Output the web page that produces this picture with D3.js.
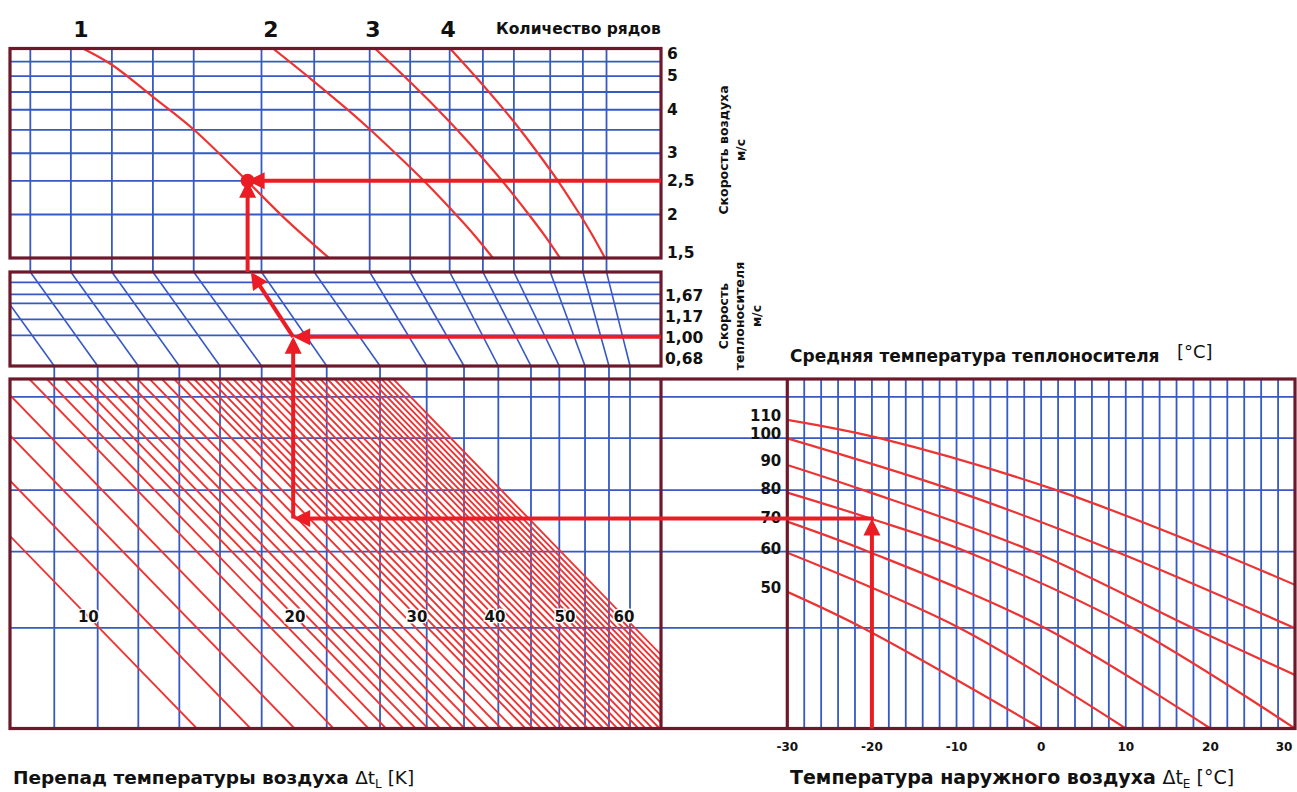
<!DOCTYPE html>
<html><head><meta charset="utf-8">
<script src="https://cdn.jsdelivr.net/npm/d3@7"></script>
<style>
body{margin:0;background:#fff;}
svg{display:block;font-family:"DejaVu Sans",Verdana,sans-serif;}
</style></head><body>
<svg id="c" width="1297" height="792"></svg>
<script>
// ================= DATA =================
// Top panel: air speed (m/s), log axis; curves per number of coil rows
const rowLabels = ["1", "2", "3", "4"];
const airSpeedTicks = [6, 5, 4, 3, 2.5, 2, 1.5];
const airSpeedTickLabels = ["6", "5", "4", "3", "2,5", "2", "1,5"];
const airSpeedGrid = [5.5, 5, 4.5, 4, 3.5, 3, 2.5, 2];
// unlabeled common horizontal scale of the left block (relative units 0..100)
const topGridX = [3.12, 9.35, 15.65, 21.95, 28.22, 38.63, 46.73, 55.25, 61.47, 67.54, 72.64, 77.40, 82.98, 88.00, 91.63];
const bottomGridX = [6.80, 13.47, 19.71, 26.01, 32.26, 38.66, 48.65, 56.84, 64.01, 69.74, 75.01, 80.03, 84.38, 88.33, 92.01, 95.24];
const rowCurve1 = [[11.2, 6.0], [15.7, 5.38], [22.0, 4.35], [28.3, 3.50], [36.3, 2.51], [42.2, 1.95], [49.0, 1.5]];
const rowCurve2 = [[40.40, 6.0], [46.42, 4.87], [51.55, 4.05], [55.39, 3.50], [59.20, 3.00], [63.75, 2.48], [68.28, 2.02], [71.27, 1.75], [74.19, 1.5]];
const rowCurve3 = [[56.07, 6.0], [61.15, 4.87], [65.48, 4.05], [68.71, 3.50], [71.94, 3.00], [75.74, 2.48], [79.52, 2.02], [82.03, 1.75], [84.49, 1.5]];
const rowCurve4 = [[67.60, 6.0], [71.97, 4.87], [75.65, 4.05], [78.40, 3.50], [81.11, 3.00], [84.29, 2.48], [87.39, 2.02], [89.42, 1.75], [91.40, 1.5]];

// Middle panel: coolant speed (relative vertical units 0..100)
const coolantSpeedLabels = ["1,67", "1,17", "1,00", "0,68"];
const coolantSpeedLabelPos = [74.5, 52.1, 29.8, 7.4];
const coolantSpeedGrid = [89.0, 76.3, 66.7, 49.7, 32.6];
const midDiagTopX = [-3.6, 3.12, 9.35, 15.65, 21.95, 28.22, 38.63, 46.73, 55.25, 61.47, 67.54, 72.64, 77.40, 82.98, 88.00, 91.63];

// Bottom band: shared relative vertical units 0..100
const bottomGridY = [94.9, 83.1, 68.2, 50.6, 28.8];
// Air temperature difference lines Δt_L (K)
const dtLines = [10, 12, 14, 16, 18, 19, 20, 21, 22, 23, 24, 25, 26, 27, 28, 29, 30, 31, 32, 33, 34, 35, 36, 37, 38, 39, 40,
  41, 42, 43, 44, 45, 46, 47, 48, 49, 50, 51, 52, 53, 54, 55, 56, 57, 58, 59, 60];
const dtLabels = [10, 20, 30, 40, 50, 60];

// Right panel: outdoor temperature (°C) vs mean coolant temperature curves
const outdoorTicks = [-30, -20, -10, 0, 10, 20, 30];
const outdoorGrid = [-28, -26, -24, -22, -20, -18, -16, -14, -12, -10, -8, -6, -4, -2, 0, 2, 4, 6, 8, 10, 12, 14, 16, 18, 20, 22, 24, 26, 28];
const coolantTemps = [110, 100, 90, 80, 70, 60, 50];
const coolant110 = [[-30, 88.3], [-19.0, 83.0], [1.8, 68.2], [20.7, 50.6], [30, 41.1]];
const coolant100 = [[-30, 83.0], [-10.4, 68.2], [8.9, 50.6], [30, 28.7]];
const coolant90 = [[-30, 75.4], [-21.0, 68.2], [-0.9, 50.6], [18.0, 28.7], [30, 15.3]];
const coolant80 = [[-30, 67.5], [-20.2, 60.1], [-8.8, 50.6], [10.9, 28.7], [30, 0]];
const coolant70 = [[-30, 59.2], [-20.4, 50.6], [0.5, 28.7], [20, 0]];
const coolant60 = [[-30, 50.3], [-9.6, 28.7], [10, 0]];
const coolant50 = [[-30, 39.1], [-21.0, 28.7], [0, 0]];

// Example reading path
const exampleOutdoor = -20;
const exampleLevel = 60.1;
const exampleDtX = 43.5;
const exampleCoolantSpeed = 31;
const exampleTopX = 37.0;
const exampleAirX = 36.5;
const exampleAirSpeed = 2.5;

// ================= SCALES =================
const svg = d3.select("#c");
const xL = d3.scaleLinear().domain([0, 100]).range([10, 661]);
const yTop = d3.scaleLog().domain([1.5, 6]).range([258, 48.5]);
const yMid = d3.scaleLinear().domain([0, 100]).range([366, 272]);
const yB = d3.scaleLinear().domain([0, 100]).range([728.5, 379]);
const xR = d3.scaleLinear().domain([-30, 30]).range([787.3, 1295]);
// Δt_L axis (non-uniform nomogram scale, calibrated along the label row)
const dtKnots = [10, 12, 14, 16, 20, 30, 40, 50, 60];
const dtKnotPos = [12.03, 20.28, 27.04, 33.03, 43.78, 62.52, 74.50, 85.25, 94.32];
const xDt = d3.scaleLinear().domain(dtKnots).range(dtKnotPos.map(xL));
const dtRefLevel = 32;
const hatchSlope = 1.03;

const BLUE = "#3659c4", RED = "#ee3333", ARROW = "#ec1c24", FRAME = "#6c1a2b", INK = "#111";

const defs = svg.append("defs");
function clip(id, x0, y0, x1, y1) {
  defs.append("clipPath").attr("id", id).append("rect")
    .attr("x", Math.min(x0, x1)).attr("y", Math.min(y0, y1))
    .attr("width", Math.abs(x1 - x0)).attr("height", Math.abs(y1 - y0));
}
clip("cT", xL(0), yTop(6), xL(100), yTop(1.5));
clip("cM", xL(0), yMid(100), xL(100), yMid(0));
clip("cB", xL(0), yB(100), xL(100), yB(0));
clip("cR", xR(-30), yB(100), xR(30), yB(0));

const grid = svg.append("g").attr("stroke", BLUE).attr("stroke-width", 1.8);

grid.selectAll(".tv").data(topGridX).join("line")
  .attr("x1", d => xL(d)).attr("x2", d => xL(d)).attr("y1", yTop(6)).attr("y2", yMid(100));
grid.selectAll(".th").data(airSpeedGrid).join("line")
  .attr("x1", xL(0)).attr("x2", xL(100)).attr("y1", d => yTop(d)).attr("y2", d => yTop(d));

grid.selectAll(".mh").data(coolantSpeedGrid).join("line")
  .attr("x1", xL(0)).attr("x2", xL(100)).attr("y1", d => yMid(d)).attr("y2", d => yMid(d));
const midG = grid.append("g").attr("clip-path", "url(#cM)").attr("stroke-width", 1.6);
midG.selectAll("line").data(bottomGridX).join("line")
  .attr("x1", d => xL(d)).attr("y1", yMid(0))
  .attr("x2", (d, i) => xL(midDiagTopX[i])).attr("y2", yMid(100));

grid.selectAll(".bv").data(bottomGridX).join("line")
  .attr("x1", d => xL(d)).attr("x2", d => xL(d)).attr("y1", yMid(0)).attr("y2", yB(0));
grid.selectAll(".bh").data(bottomGridY).join("line")
  .attr("x1", xL(0)).attr("x2", xR(30)).attr("y1", d => yB(d)).attr("y2", d => yB(d));
grid.selectAll(".rv").data(outdoorGrid).join("line")
  .attr("x1", d => xR(d)).attr("x2", d => xR(d)).attr("y1", yB(100)).attr("y2", yB(0));

// ---- red curves ----
const topLine = d3.line().x(d => xL(d[0])).y(d => yTop(d[1])).curve(d3.curveCatmullRom.alpha(0.5));
const rowCurves = [rowCurve1, rowCurve2, rowCurve3, rowCurve4];
svg.append("g").attr("clip-path", "url(#cT)").selectAll("path").data(rowCurves).join("path")
  .attr("d", topLine).attr("fill", "none").attr("stroke", RED).attr("stroke-width", 2.2);

const hatch = svg.append("g").attr("clip-path", "url(#cB)");
hatch.selectAll("line").data(dtLines).join("line")
  .attr("x1", d => xDt(d) - 420).attr("y1", yB(dtRefLevel) - 420 * hatchSlope)
  .attr("x2", d => xDt(d) + 420).attr("y2", yB(dtRefLevel) + 420 * hatchSlope)
  .attr("stroke", RED).attr("stroke-width", 1.9);

const rLine = d3.line().x(d => xR(d[0])).y(d => yB(d[1])).curve(d3.curveCatmullRom.alpha(0.5));
const coolantCurves = [coolant110, coolant100, coolant90, coolant80, coolant70, coolant60, coolant50];
svg.append("g").attr("clip-path", "url(#cR)").selectAll("path").data(coolantCurves).join("path")
  .attr("d", rLine).attr("fill", "none").attr("stroke", RED).attr("stroke-width", 2.2);

// ---- frames ----
const fr = svg.append("g").attr("fill", "none").attr("stroke", FRAME).attr("stroke-width", 3.2);
fr.append("rect").attr("x", xL(0)).attr("y", yTop(6)).attr("width", xL(100) - xL(0)).attr("height", yTop(1.5) - yTop(6));
fr.append("rect").attr("x", xL(0)).attr("y", yMid(100)).attr("width", xL(100) - xL(0)).attr("height", yMid(0) - yMid(100));
fr.append("rect").attr("x", xL(0)).attr("y", yB(100)).attr("width", xR(30) - xL(0)).attr("height", yB(0) - yB(100));
fr.append("line").attr("x1", xL(100)).attr("x2", xL(100)).attr("y1", yB(100)).attr("y2", yB(0));
fr.append("line").attr("x1", xR(-30)).attr("x2", xR(-30)).attr("y1", yB(100)).attr("y2", yB(0));

// ---- texts ----
const T = svg.append("g").attr("fill", INK);
T.selectAll(".rl").data(rowLabels).join("text")
  .attr("x", (d, i) => xL(rowCurves[i][0][0]) - 2).attr("y", 29)
  .attr("text-anchor", "middle").attr("dominant-baseline", "central")
  .attr("font-size", 22).attr("font-weight", "bold").text(d => d);
T.append("text").attr("x", 496).attr("y", 29).attr("dominant-baseline", "central")
  .attr("font-size", 15.5).attr("font-weight", "bold").text("Количество рядов");

T.selectAll(".as").data(airSpeedTicks).join("text")
  .attr("x", xL(100) + 6)
  .attr("y", d => Math.min(Math.max(yTop(d), yTop(6) + 5), yTop(1.5) - 5))
  .attr("dominant-baseline", "central").attr("font-size", 15.5).attr("font-weight", "bold")
  .text((d, i) => airSpeedTickLabels[i]);

T.selectAll(".cs").data(coolantSpeedLabels).join("text")
  .attr("x", xL(100) + 4).attr("y", (d, i) => yMid(coolantSpeedLabelPos[i]))
  .attr("dominant-baseline", "central").attr("font-size", 15.5).attr("font-weight", "bold")
  .text(d => d);

function vtext(x, y, s, size) {
  T.append("text").attr("transform", `translate(${x},${y}) rotate(-90)`)
    .attr("text-anchor", "middle").attr("dominant-baseline", "central")
    .attr("font-size", size).attr("font-weight", "bold").text(s);
}
vtext(723, 150, "Скорость воздуха", 12.5);
vtext(740, 150, "м/с", 12.5);
vtext(723, 316, "Скорость", 12.5);
vtext(739, 316, "теплоносителя", 12.5);
vtext(756, 316, "м/с", 12.5);

T.append("text").attr("x", 790).attr("y", 356).attr("dominant-baseline", "central")
  .attr("font-size", 17).attr("font-weight", "bold").text("Средняя температура теплоносителя");
T.append("text").attr("x", 1177).attr("y", 351).attr("dominant-baseline", "central")
  .attr("font-size", 18).text("[°C]");

T.selectAll(".ct").data(coolantTemps).join("text")
  .attr("x", xR(-30) - 6).attr("y", (d, i) => yB(coolantCurves[i][0][1]) - 4)
  .attr("text-anchor", "end").attr("dominant-baseline", "central")
  .attr("font-size", 15).attr("font-weight", "bold").text(d => d);

T.selectAll(".dl").data(dtLabels).join("text")
  .attr("x", d => xDt(d)).attr("y", yB(dtRefLevel))
  .attr("text-anchor", "middle").attr("dominant-baseline", "central")
  .attr("font-size", 15).attr("font-weight", "bold")
  .attr("stroke", "#fff").attr("stroke-width", 3).attr("paint-order", "stroke").text(d => d);

T.selectAll(".ot").data(outdoorTicks).join("text")
  .attr("x", d => Math.min(xR(d), xR(30) - 11)).attr("y", 747)
  .attr("text-anchor", "middle").attr("dominant-baseline", "central")
  .attr("font-size", 12).attr("font-weight", "bold").text(d => d);

const b1 = T.append("text").attr("x", 13).attr("y", 784).attr("font-size", 18.5);
b1.append("tspan").attr("font-weight", "bold").text("Перепад температуры воздуха ");
b1.append("tspan").text("Δt");
b1.append("tspan").attr("font-size", 12).attr("dy", 4).text("L");
b1.append("tspan").attr("dy", -4).text(" [K]");

const b2 = T.append("text").attr("x", 790).attr("y", 784).attr("font-size", 19);
b2.append("tspan").attr("font-weight", "bold").text("Температура наружного воздуха ");
b2.append("tspan").text("Δt");
b2.append("tspan").attr("font-size", 12).attr("dy", 4).text("E");
b2.append("tspan").attr("dy", -4).text(" [°C]");

// ---- example path arrows ----
const A = svg.append("g");
function arrow(x1, y1, x2, y2) {
  const dx = x2 - x1, dy = y2 - y1, L = Math.hypot(dx, dy), ux = dx / L, uy = dy / L;
  const hl = 17, hw = 8.5, bx = x2 - ux * hl, by = y2 - uy * hl;
  A.append("line").attr("x1", x1).attr("y1", y1).attr("x2", bx + ux * 2).attr("y2", by + uy * 2)
    .attr("stroke", ARROW).attr("stroke-width", 4);
  A.append("path").attr("d", `M${x2},${y2}L${bx - uy * hw},${by + ux * hw}L${bx + uy * hw},${by - ux * hw}Z`)
    .attr("fill", ARROW);
}
arrow(xR(exampleOutdoor), yB(0), xR(exampleOutdoor), yB(exampleLevel));
arrow(xR(exampleOutdoor) + 2, yB(exampleLevel), xL(exampleDtX), yB(exampleLevel));
arrow(xL(exampleDtX), yB(exampleLevel), xL(exampleDtX), yMid(exampleCoolantSpeed));
arrow(xL(100), yMid(exampleCoolantSpeed), xL(exampleDtX), yMid(exampleCoolantSpeed));
arrow(xL(exampleDtX), yMid(exampleCoolantSpeed), xL(exampleTopX), yMid(100));
arrow(xL(exampleAirX), yMid(100), xL(exampleAirX), yTop(exampleAirSpeed));
arrow(xL(100), yTop(exampleAirSpeed), xL(exampleAirX), yTop(exampleAirSpeed));
A.append("circle").attr("cx", xL(exampleAirX)).attr("cy", yTop(exampleAirSpeed)).attr("r", 7).attr("fill", ARROW);
</script>
</body></html>
